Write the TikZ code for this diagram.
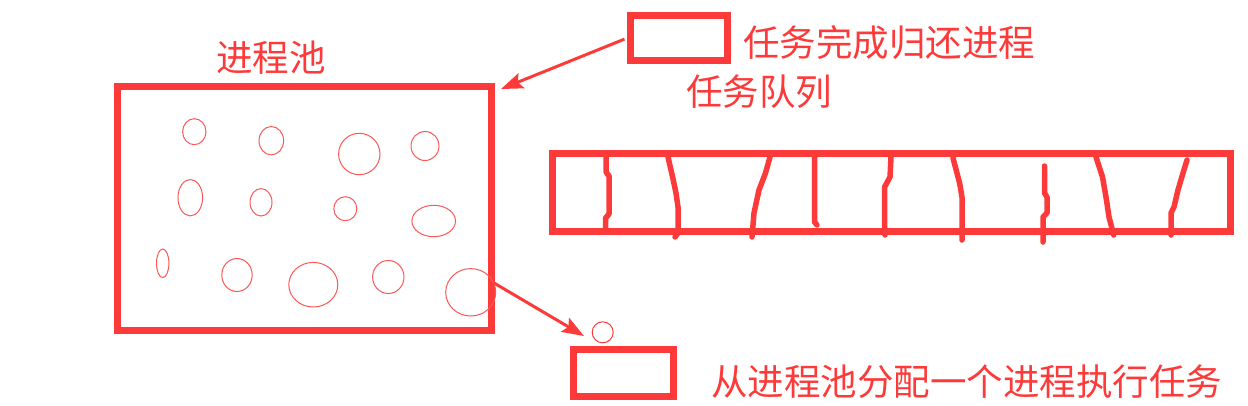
\documentclass[tikz,border=0pt]{standalone}
\usepackage{fontspec}
\setmainfont{Noto Sans CJK SC}
\usetikzlibrary{arrows.meta}
\definecolor{penred}{RGB}{252,58,58}

\begin{document}
\begin{tikzpicture}[x=1pt, y=-1pt, color=penred,
  every node/.style={inner sep=0pt},
  redbox/.style={draw, line width=7pt},
  note/.style={anchor=west, font=\fontsize{36.5}{40}\selectfont},
  tick/.style={line width=5.5pt, line cap=round, line join=round},
  bubble/.style={line width=1pt, penred!85}]
\useasboundingbox (0,0) rectangle (1248,405);

\node[redbox, minimum width=374pt, minimum height=244pt] (pool) at (304.5,208) {};
\node[redbox, minimum width=678pt, minimum height=78pt] (queue) at (891,192.5) {};
\node[redbox, line width=6.5pt, minimum width=97pt, minimum height=45pt] (tbox) at (679,38) {};
\node[redbox, line width=6.5pt, minimum width=100pt, minimum height=47pt] (bbox) at (623.5,373) {};
\node[draw, line width=1pt, circle, minimum size=21pt] (proc) at (602.7,332.3) {};

\node[note] (tpool) at (216,58) {进程池};
\node[note] (tback) at (743,43) {任务完成归还进程};
\node[note] (tqueue) at (686,92) {任务队列};
\node[note] (tgive) at (711,382) {从进程池分配一个进程执行任务};

% processes in the pool
\foreach \x/\y/\a/\b in {194.3/131.7/11.7/13, 271.3/140.7/12.3/14.2, 359.3/154/20.7/20.7, 425/146/14/14.5,
  190.3/197.7/12.3/18.2, 261/202.3/11/13.7, 345.3/208.7/11.5/12, 433.7/221/21.8/15.7,
  162.7/263.3/6.2/14.3, 237/275/15.2/16.5, 313.3/284.7/24.5/22.3, 388.3/277/15.7/16.5, 470.7/292.3/25/23.7}
  \draw[bubble] (\x,\y) ellipse [x radius=\a, y radius=\b];

% queue slots
\draw[tick] (606,157) -- (606,172) -- (609,176) -- (609,214) -- (605.6,218) -- (605.6,229);
\draw[tick] (668,157) -- (672.6,177) -- (676,193) -- (678,207) -- (678,233) -- (675,237);
\draw[tick] (770,157) -- (765.5,173) -- (759,190) -- (754,213) -- (752,237);
\draw[tick] (814.5,157) -- (814.5,222) -- (817,225);
\draw[tick] (891,157) -- (890,177) -- (884.6,187) -- (884.6,227) -- (885,235);
\draw[tick] (953,158) -- (959.6,183) -- (962,197) -- (962,240);
\draw[tick] (1044.5,166) -- (1044.5,193) -- (1047,197) -- (1047,213) -- (1043,217) -- (1043,242);
\draw[tick] (1096,157) -- (1102.5,177) -- (1106,197) -- (1109,217) -- (1113.7,235);
\draw[tick] (1187,160) -- (1183,173) -- (1178,190) -- (1174,207) -- (1171,213) -- (1171,235);

% arrows
\coordinate (poolin) at (501,89);
\coordinate (drop) at (584,336);
\draw[line width=3pt, shorten <=3pt, -{Stealth[length=22pt, width=16pt, inset=4pt]}] (tbox.west) -- (poolin);
\draw[line width=3pt, -{Stealth[length=22pt, width=16pt, inset=4pt]}] ([yshift=-75pt, xshift=-1pt]pool.east) -- (drop);
\end{tikzpicture}
\end{document}
